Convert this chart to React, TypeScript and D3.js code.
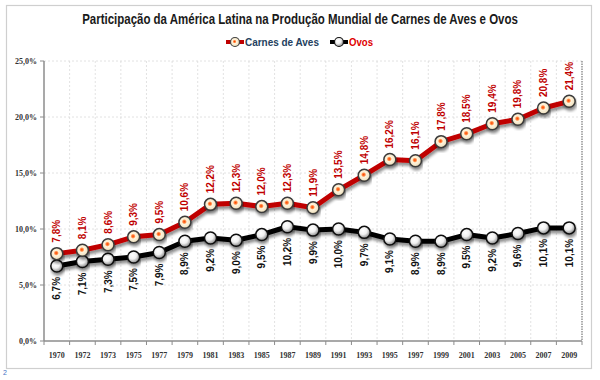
import React, { useLayoutEffect, useRef, useState } from "react";
import * as d3 from "d3";

const years = ["1970","1972","1973","1975","1977","1979","1981","1983","1985","1987","1989","1991","1993","1995","1997","1999","2001","2003","2005","2007","2009"];
const carnes = [7.8,8.1,8.6,9.3,9.5,10.6,12.2,12.3,12.0,12.3,11.9,13.5,14.8,16.2,16.1,17.8,18.5,19.4,19.8,20.8,21.4];
const ovos = [6.7,7.1,7.3,7.5,7.9,8.9,9.2,9.0,9.5,10.2,9.9,10.0,9.7,9.1,8.9,8.9,9.5,9.2,9.6,10.1,10.1];
const yTicks = [0,5,10,15,20,25];
const title = "Participação da América Latina na Produção Mundial de Carnes de Aves e Ovos";
const seriesNames = ["Carnes de Aves", "Ovos"];

const W = 600, H = 380;
const L = 44, R = 582, T = 61, B = 341;

const fmt = (v: number) => v.toFixed(1).replace(".", ",") + "%";

function FitText(props: { x: number; y: number; width: number; anchor: "start" | "middle"; fontSize: number; fill: string; children: string }) {
  const ref = useRef<SVGTextElement>(null);
  const [s, setS] = useState(1);
  useLayoutEffect(() => {
    if (ref.current) {
      const w = ref.current.getComputedTextLength();
      if (w > 0) setS(props.width / w);
    }
  }, [props.width, props.children]);
  return (
    <text ref={ref} transform={`translate(${props.x},${props.y}) scale(${s},1)`} textAnchor={props.anchor} fontSize={props.fontSize} fontWeight="bold" fill={props.fill}>
      {props.children}
    </text>
  );
}

export default function App() {
  const x = d3.scaleBand<string>().domain(years).range([L, R]).padding(0);
  const y = d3.scaleLinear().domain([0, 25]).range([B, T]);
  const cx = (i: number) => (x(years[i]) as number) + x.bandwidth() / 2;
  const line = d3.line<number>().x((_, i) => cx(i)).y((d) => y(d));
  const bounds = years.map((yr) => x(yr) as number).concat([R]);

  return (
    <svg width={W} height={H} style={{ position: "absolute", left: 0, top: 0, background: "#fff" }} fontFamily="'Liberation Sans', Arial, sans-serif">
      <defs>
        <radialGradient id="gC" cx="45%" cy="45%" r="55%">
          <stop offset="0%" stopColor="#FF3A00" />
          <stop offset="22%" stopColor="#FF8A40" />
          <stop offset="40%" stopColor="#FFF3DC" />
          <stop offset="80%" stopColor="#F2E6C8" />
          <stop offset="100%" stopColor="#C9B58C" />
        </radialGradient>
        <radialGradient id="gO" cx="40%" cy="35%" r="65%">
          <stop offset="0%" stopColor="#FFFFFF" />
          <stop offset="50%" stopColor="#F0F0F0" />
          <stop offset="100%" stopColor="#8A8A8A" />
        </radialGradient>
        <filter id="sh" x="-10%" y="-20%" width="120%" height="160%">
          <feGaussianBlur in="SourceAlpha" stdDeviation="1.6" />
          <feOffset dx="1" dy="2.5" result="b" />
          <feComponentTransfer><feFuncA type="linear" slope="0.45" /></feComponentTransfer>
          <feMerge><feMergeNode /><feMergeNode in="SourceGraphic" /></feMerge>
        </filter>
      </defs>

      <rect x={6.5} y={5.5} width={585} height={363} fill="#fff" stroke="#CFCFCF" strokeWidth={1.2} />

      <FitText x={300} y={24} width={436} anchor="middle" fontSize={14} fill="#1a1a1a">{title}</FitText>

      {/* legend */}
      <g>
        <line x1={226} x2={244} y1={42} y2={42} stroke="#C00000" strokeWidth={4} />
        <circle cx={235} cy={42} r={4.5} fill="url(#gC)" stroke="#444" strokeWidth={1.2} />
        <FitText x={245} y={46} width={74} anchor="start" fontSize={11.5} fill="#243F60">{seriesNames[0]}</FitText>
        <line x1={330} x2={348} y1={42} y2={42} stroke="#000" strokeWidth={4} />
        <circle cx={339} cy={42} r={4.5} fill="url(#gO)" stroke="#111" strokeWidth={1.2} />
        <FitText x={349} y={46} width={24} anchor="start" fontSize={11.5} fill="#E00000">{seriesNames[1]}</FitText>
      </g>

      {/* grid */}
      {yTicks.filter((t) => t > 0).map((t) => (
        <line key={"h" + t} x1={L} x2={R} y1={y(t)} y2={y(t)} stroke="#DADADA" strokeDasharray="2,2" strokeWidth={0.8} />
      ))}
      {bounds.slice(1, -1).map((bx, i) => (
        <line key={"v" + i} x1={bx} x2={bx} y1={T} y2={B} stroke="#DADADA" strokeDasharray="2,2" strokeWidth={0.8} />
      ))}
      <line x1={R} x2={R} y1={T} y2={B} stroke="#777" strokeDasharray="1.5,1" strokeWidth={1.2} />

      {/* axes */}
      <line x1={L} x2={L} y1={T} y2={B} stroke="#8C8C8C" strokeWidth={1.5} />
      <line x1={L} x2={R} y1={B} y2={B} stroke="#8C8C8C" strokeWidth={1.5} />
      {yTicks.map((t) => (
        <g key={"yt" + t}>
          <line x1={L - 4} x2={L} y1={y(t)} y2={y(t)} stroke="#8C8C8C" strokeWidth={1} />
          <text x={L - 7} y={y(t) + 3} textAnchor="end" fontSize={8} fontWeight="bold" fill="#333" fontFamily="'Liberation Serif', serif">{fmt(t)}</text>
        </g>
      ))}
      {bounds.map((bx, i) => (
        <line key={"xt" + i} x1={bx} x2={bx} y1={B} y2={B + 4} stroke="#8C8C8C" strokeWidth={1} />
      ))}
      {years.map((yr, i) => (
        <text key={"xl" + yr} x={cx(i)} y={358} textAnchor="middle" fontSize={8} fontWeight="bold" fill="#333" fontFamily="'Liberation Serif', serif">{yr}</text>
      ))}

      {/* lines */}
      <path d={line(ovos) as string} fill="none" stroke="#000" strokeWidth={5} strokeLinejoin="round" filter="url(#sh)" />
      <path d={line(carnes) as string} fill="none" stroke="#C00000" strokeWidth={5} strokeLinejoin="round" filter="url(#sh)" />

      {ovos.map((v, i) => (
        <circle key={"mo" + i} cx={cx(i)} cy={y(v)} r={6} fill="url(#gO)" stroke="#111" strokeWidth={1.5} filter="url(#sh)" />
      ))}
      {carnes.map((v, i) => (
        <circle key={"mc" + i} cx={cx(i)} cy={y(v)} r={6} fill="url(#gC)" stroke="#3a3a3a" strokeWidth={1.5} filter="url(#sh)" />
      ))}

      {/* labels */}
      {carnes.map((v, i) => (
        <text key={"lc" + i} transform={`translate(${cx(i) + 3.5},${y(v) - 11}) rotate(-90)`} textAnchor="start" fontSize={10} fontWeight="bold" fill="#C00000">{fmt(v)}</text>
      ))}
      {ovos.map((v, i) => (
        <text key={"lo" + i} transform={`translate(${cx(i) + 3.5},${y(v) + 11}) rotate(-90)`} textAnchor="end" fontSize={10} fontWeight="bold" fill="#111">{fmt(v)}</text>
      ))}

      <text x={3} y={375} fontSize={7} fill="#4472C4">2</text>
    </svg>
  );
}
